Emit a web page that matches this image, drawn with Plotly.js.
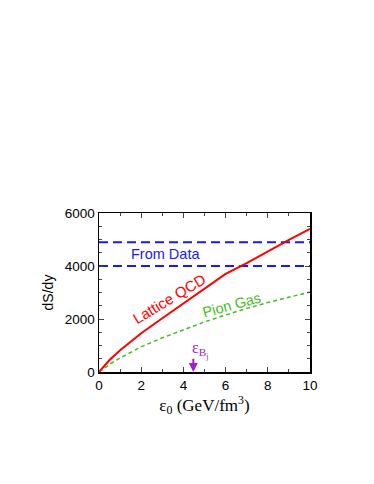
<!DOCTYPE html>
<html>
<head>
<meta charset="utf-8">
<script src="https://cdn.plot.ly/plotly-3.0.1.min.js"></script>
<style>
  body { margin: 0; background: #fff; }
  #graph { width: 374px; height: 484px; }
</style>
</head>
<body>
<div id="graph"></div>
<script>
// values
const eps = [0, 0.5, 1, 1.5, 2, 3, 4, 5, 6, 7, 8, 9, 10];
const latticeQCD = [0, 450, 820, 1150, 1460, 2030, 2580, 3130, 3700, 4110, 4560, 4990, 5400];
const pionGas = [0, 290, 530, 750, 950, 1290, 1600, 1890, 2150, 2400, 2620, 2830, 3020];
const dataRange = [0, 10];
const dataUpper = [4900, 4900];
const dataLower = [4000, 4000];
const epsBj = 4.47;

function plotGraph() {
  const graph = document.getElementById('graph');

  const lattice = {
    x: eps, y: latticeQCD, type: 'scatter', mode: 'lines',
    line: { color: '#ff0000', width: 2 }, hoverinfo: 'none'
  };
  const pion = {
    x: eps, y: pionGas, type: 'scatter', mode: 'lines',
    line: { color: '#44bb22', width: 1.5, dash: '4px,3px' }, hoverinfo: 'none'
  };
  const upper = {
    x: dataRange, y: dataUpper, type: 'scatter', mode: 'lines',
    line: { color: '#1a1aee', width: 2, dash: '9px,5px' }, hoverinfo: 'none'
  };
  const lower = {
    x: dataRange, y: dataLower, type: 'scatter', mode: 'lines',
    line: { color: '#1a1aee', width: 2, dash: '9px,5px' }, hoverinfo: 'none'
  };

  const sans = 'Liberation Sans, Arial, sans-serif';
  const serif = 'Liberation Serif, Times New Roman, serif';
  const tickFont = { family: sans, size: 13.5, color: '#000' };

  const layout = {
    width: 374, height: 484,
    margin: { l: 99, r: 64, t: 213, b: 112 },
    paper_bgcolor: '#fff', plot_bgcolor: '#fff',
    showlegend: false,
    xaxis: {
      range: [0, 10], dtick: 2, ticks: 'inside', ticklen: 5, tickwidth: 1,
      minor: { dtick: 1, ticks: 'inside', ticklen: 3 },
      showline: true, mirror: 'ticks', linecolor: '#000', linewidth: 1.5,
      showgrid: false, zeroline: false, tickfont: tickFont,
      title: { text: 'ε<sub>0</sub> (GeV/fm<sup>3</sup>)', standoff: 6,
        font: { family: serif, size: 17, color: '#000' } }
    },
    yaxis: {
      range: [0, 6000], dtick: 2000, ticks: 'inside', ticklen: 5, tickwidth: 1,
      minor: { dtick: 500, ticks: 'inside', ticklen: 3 },
      showline: true, mirror: 'ticks', linecolor: '#000', linewidth: 1.5,
      showgrid: false, zeroline: false, tickfont: tickFont,
      title: { text: 'dS/dy', standoff: 8,
        font: { family: sans, size: 14, color: '#000' } }
    },
    annotations: [
      { x: 3.15, y: 4450, text: 'From Data', showarrow: false,
        font: { family: sans, size: 14.5, color: '#1a1aee' } },
      { x: 3.34, y: 2790, text: 'Lattice QCD', showarrow: false, textangle: -31,
        font: { family: sans, size: 15, color: '#ff0000' } },
      { x: 6.28, y: 2520, text: 'Pion Gas', showarrow: false, textangle: -15,
        font: { family: sans, size: 14.5, color: '#44bb22' } },
      { x: epsBj, y: 0, ax: epsBj, ay: 560, axref: 'x', ayref: 'y',
        text: '', showarrow: true, arrowhead: 2, arrowsize: 0.9, arrowwidth: 2,
        arrowcolor: '#a020d0', standoff: 0 },
      { x: 4.3, y: 820, xanchor: 'left', text: 'ε<sub>B<sub>j</sub></sub>', showarrow: false,
        font: { family: serif, size: 16, color: '#a020d0' } }
    ]
  };

  Plotly.newPlot(graph, [upper, lower, pion, lattice], layout, { displayModeBar: false, staticPlot: true });
}

plotGraph();
</script>
</body>
</html>
